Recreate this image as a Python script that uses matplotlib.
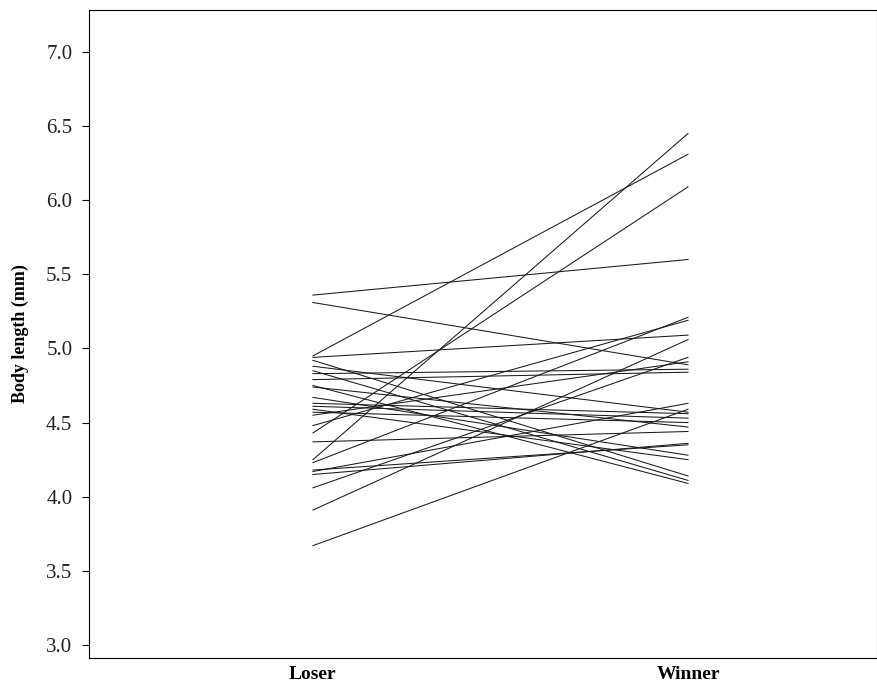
import matplotlib
matplotlib.use("Agg")
import matplotlib.pyplot as plt

# Body length (mm) of each pair: loser vs winner
groups = ["Loser", "Winner"]
loser = [5.36, 5.31, 4.95, 4.94, 4.92, 4.88, 4.85, 4.83, 4.79, 4.75,
         4.74, 4.67, 4.63, 4.61, 4.59, 4.57, 4.55, 4.48, 4.43, 4.37,
         4.25, 4.23, 4.18, 4.17, 4.15, 4.06, 3.91, 3.67]
winner = [5.60, 4.89, 6.31, 5.09, 4.14, 4.57, 4.11, 4.86, 4.84, 4.09,
          4.47, 4.28, 4.56, 4.53, 4.25, 4.50, 4.91, 5.19, 6.09, 4.44,
          6.45, 5.21, 4.35, 4.63, 4.36, 4.94, 5.06, 4.59]
yticks = [3.0, 3.5, 4.0, 4.5, 5.0, 5.5, 6.0, 6.5, 7.0]

plt.rcParams["font.family"] = ["Liberation Serif", "DejaVu Serif"]

fig = plt.figure(figsize=(8.78, 6.86), dpi=100)
ax = fig.add_axes([0.1014, 0.0408, 0.8975, 0.9446])

xpos = [1, 2]
for lo, wi in zip(loser, winner):
    ax.plot(xpos, [lo, wi], color="#1a1a1a", linewidth=0.75)

ax.set_xlim(0.403, 2.504)
ax.set_ylim(2.912, 7.283)
ax.set_xticks(xpos)
ax.set_xticklabels(groups, fontsize=14, fontweight="bold")
ax.set_yticks(yticks)
ax.set_yticklabels([f"{v:.1f}" for v in yticks], fontsize=15, color="#222222")
ax.tick_params(axis="x", length=0, pad=6)
ax.tick_params(axis="y", length=5, width=0.8, direction="out", pad=7)
ax.set_ylabel("Body length (mm)", fontsize=13, fontweight="bold", labelpad=12)

for s in ax.spines.values():
    s.set_linewidth(0.8)

fig.savefig("out.png", dpi=100)
